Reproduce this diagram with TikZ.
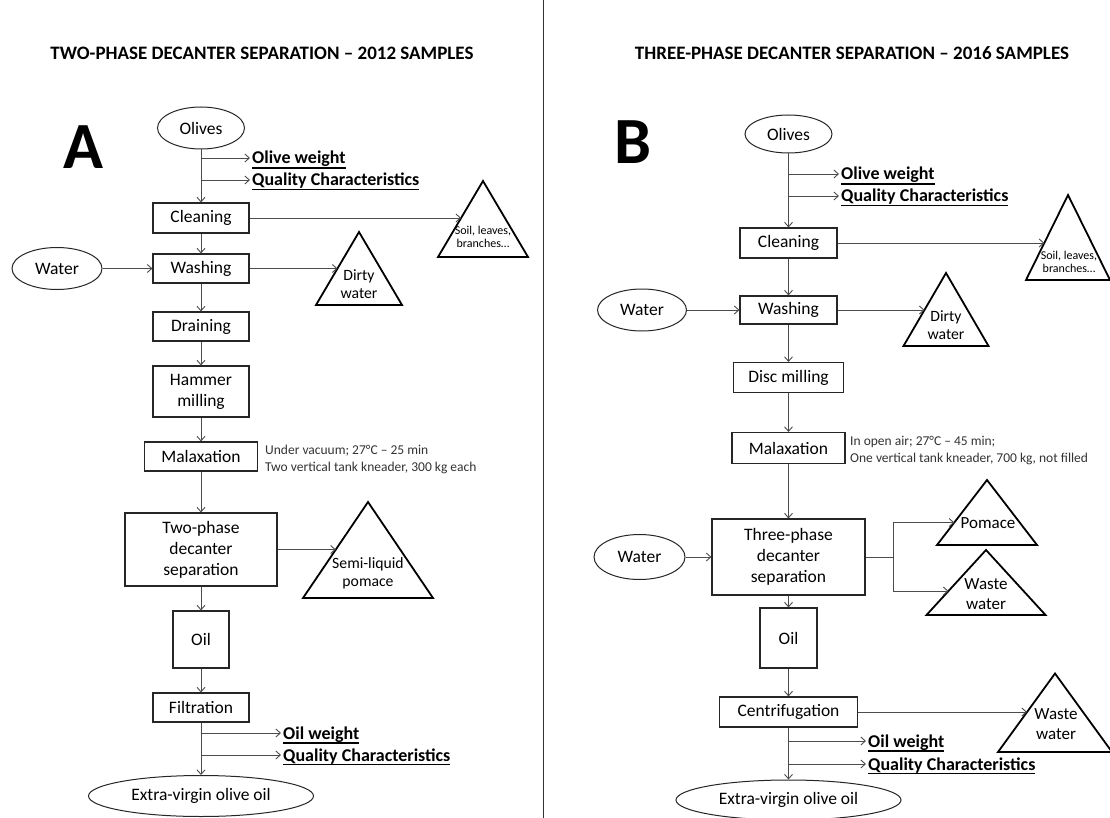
\documentclass[tikz,border=0pt]{standalone}
\usepackage{fontspec}
\setmainfont{Carlito}
\usetikzlibrary{shapes.geometric,arrows.meta}
\newcommand\fmain{\fontsize{17.5}{21}\selectfont}
\newcommand\ftri{\fontsize{15.7}{18.5}\selectfont}
\newcommand\ftrib{\fontsize{17}{20}\selectfont}
\newcommand\fsmall{\fontsize{12}{13.5}\selectfont}
\newcommand\fnote{\fontsize{13.5}{17}\selectfont}
\newcommand\ftitle{\fontsize{19}{23}\selectfont\bfseries}
\newcommand\fbig{\fontsize{66}{70}\selectfont\bfseries}
\newcommand\fmeas{\fontsize{18}{21}\selectfont\bfseries}
\newcommand\ulb[1]{\setbox0=\hbox{#1}\rlap{\rule[-\dimexpr\dp0+1.6pt\relax]{\wd0}{1.3pt}}\box0}
\tikzset{
  flow/.style={draw=black!70, line width=0.9pt, -{Straight Barb[length=4.5pt,width=8pt,line width=0.9pt]}},
  plain/.style={draw=black!70, line width=0.9pt},
  box/.style={draw=black!85, line width=1.1pt, inner sep=0pt, align=center, font=\fmain},
  oval/.style={ellipse, draw=black!85, line width=1pt, inner sep=0pt, font=\fmain},
  wh/.style 2 args={minimum width=#1pt, minimum height=#2pt},
  tri/.style={draw=black, line width=1.8pt, line join=miter},
  tritext/.style={inner sep=0pt, align=center, font=\ftri},
  meas/.style={inner sep=0pt, font=\fmeas, anchor=base west},
  note/.style={inner sep=0pt, font=\fnote, align=left, anchor=west, text=black!80},
  ttl/.style={inner sep=0pt, font=\ftitle},
  big/.style={inner sep=0pt, font=\fbig},
}
\begin{document}
\begin{tikzpicture}[x=1pt,y=-1pt]
\fill[white] (0,0) rectangle (1110,818);
\useasboundingbox (0,0) rectangle (1110,818);
\draw[line width=1pt, black!80] (543,0) -- (543,818);

% ---------------- Panel A ----------------
\node[ttl] (tA) at (262,53) {TWO-PHASE DECANTER SEPARATION – 2012 SAMPLES};
\node[big] (letA) at (83,147) {A};
\node[oval, wh={87}{42}] (olA) at (201,128) {Olives};
\coordinate (owA0) at (201,158);
\coordinate (qcA0) at (201,180);
\node[meas] (owA) at (252,164) {\ulb{Olive weight}};
\node[meas] (qcA) at (252,186) {\ulb{Quality Characteristics}};
\node[box, wh={96}{30}] (clA) at (201,218) {Cleaning};
\node[oval, wh={90}{42}] (waA) at (57,268.5) {Water};
\node[box, wh={96}{29}] (wsA) at (201,268.5) {Washing};
\node[box, wh={96}{29}] (drA) at (201,326.5) {Draining};
\node[box, wh={96}{51}] (hmA) at (201,391.5) {Hammer\\milling};
\node[box, wh={113}{29}] (mxA) at (201,456.5) {Malaxation};
\node[note] (ntA) at (265,459.5) {Under vacuum; 27°C – 25 min\\Two vertical tank kneader, 300 kg each};
\node[box, wh={152}{73}] (dcA) at (201,549.5) {Two-phase\\decanter\\separation};
\node[box, wh={56}{57}] (oiA) at (201,639.5) {Oil};
\node[box, wh={96}{29}] (fiA) at (201,707.5) {Filtration};
\coordinate (owA2) at (201,733);
\coordinate (qcA2) at (201,755);
\node[meas] (oaA) at (283,739) {\ulb{Oil weight}};
\node[meas] (qaA) at (283,761) {\ulb{Quality Characteristics}};
\node[oval, wh={225}{41}] (evA) at (201,796) {Extra-virgin olive oil};

\draw[tri] (438,257) -- (483,181) -- (528,257) -- cycle;
\node[tritext, font=\fsmall] (soA) at (483,237) {Soil, leaves,\\branches…};
\coordinate (soAL) at (461.1,218);
\draw[tri] (316,305) -- (359,232) -- (402,305) -- cycle;
\node[tritext] (diA) at (359,284) {Dirty\\water};
\coordinate (diAL) at (337.5,268.5);
\draw[tri] (303,598) -- (368,502) -- (433,598) -- cycle;
\node[tritext] (seA) at (368,573.5) {Semi-liquid\\pomace};
\coordinate (seAL) at (335.8,549.5);

\draw[flow] (olA) -- (clA);
\draw[flow, shorten >=2pt] (owA0) -- (owA0 -| owA.west);
\draw[flow, shorten >=2pt] (qcA0) -- (qcA0 -| qcA.west);
\draw[flow] (clA.east) -- (soAL);
\draw[flow] (clA) -- (wsA);
\draw[flow] (waA) -- (wsA);
\draw[flow] (wsA.east) -- (diAL);
\draw[flow] (wsA) -- (drA);
\draw[flow] (drA) -- (hmA);
\draw[flow] (hmA) -- (mxA);
\draw[flow] (mxA) -- (dcA);
\draw[flow] (dcA.east) -- (seAL);
\draw[flow] (dcA) -- (oiA);
\draw[flow] (oiA) -- (fiA);
\draw[flow] (fiA) -- (evA);
\draw[flow, shorten >=2pt] (owA2) -- (owA2 -| oaA.west);
\draw[flow, shorten >=2pt] (qcA2) -- (qcA2 -| qaA.west);

% ---------------- Panel B ----------------
\node[ttl] (tB) at (852,53) {THREE-PHASE DECANTER SEPARATION – 2016 SAMPLES};
\node[big] (letB) at (633,142) {B};
\node[oval, wh={87}{38}] (olB) at (788.5,134) {Olives};
\coordinate (owB0) at (788.5,174);
\coordinate (qcB0) at (788.5,196);
\node[meas] (owB) at (841,180) {\ulb{Olive weight}};
\node[meas] (qcB) at (841,202) {\ulb{Quality Characteristics}};
\node[box, wh={97}{30}] (clB) at (788.5,243) {Cleaning};
\node[oval, wh={89}{42}] (waB) at (642,310) {Water};
\node[box, wh={97}{28}] (wsB) at (788.5,310) {Washing};
\node[box, wh={110}{30}] (dmB) at (788.5,377.5) {Disc milling};
\node[box, wh={113}{31}] (mxB) at (788.5,448) {Malaxation};
\node[note] (ntB) at (850,450.5) {In open air; 27°C – 45 min;\\One vertical tank kneader, 700 kg, not filled};
\node[box, wh={153}{76}] (dcB) at (788.5,557) {Three-phase\\decanter\\separation};
\node[oval, wh={91}{45}] (wbB) at (639.5,557) {Water};
\node[box, wh={57}{60}] (oiB) at (788.5,638) {Oil};
\node[box, wh={138}{30}] (ceB) at (788.5,712) {Centrifugation};
\coordinate (owB2) at (788.5,741);
\coordinate (qcB2) at (788.5,764);
\node[meas] (oaB) at (868,747) {\ulb{Oil weight}};
\node[meas] (qaB) at (868,770) {\ulb{Quality Characteristics}};
\node[oval, wh={225}{40}] (evB) at (788.5,800) {Extra-virgin olive oil};

\draw[tri] (1026,280) -- (1068,195) -- (1110,280) -- cycle;
\node[tritext, font=\fsmall] (soB) at (1069,262) {Soil, leaves,\\branches…};
\coordinate (soBL) at (1044.3,243);
\draw[tri] (903.5,346) -- (946,273) -- (988.5,346) -- cycle;
\node[tritext] (diB) at (946,325) {Dirty\\water};
\coordinate (diBL) at (924.5,310);
\draw[tri] (937,545) -- (987,480) -- (1037,545) -- cycle;
\node[tritext, font=\ftrib] (poB) at (988,523) {Pomace};
\coordinate (poBL) at (954.3,522.5);
\draw[tri] (926.5,615) -- (986,550) -- (1045.5,615) -- cycle;
\node[tritext, font=\ftrib] (w1B) at (986,594.5) {Waste\\water};
\coordinate (w1BL) at (948.5,591);
\draw[tri] (998,752) -- (1055,673.5) -- (1112,752) -- cycle;
\node[tritext, font=\ftrib] (w2B) at (1056,724.5) {Waste\\water};
\coordinate (w2BL) at (1027,712);
\coordinate (jB) at (893,557);

\draw[flow] (olB) -- (clB);
\draw[flow, shorten >=2pt] (owB0) -- (owB0 -| owB.west);
\draw[flow, shorten >=2pt] (qcB0) -- (qcB0 -| qcB.west);
\draw[flow] (clB.east) -- (soBL);
\draw[flow] (clB) -- (wsB);
\draw[flow] (waB) -- (wsB);
\draw[flow] (wsB.east) -- (diBL);
\draw[flow] (wsB) -- (dmB);
\draw[flow] (dmB) -- (mxB);
\draw[flow] (mxB) -- (dcB);
\draw[flow] (wbB) -- (dcB);
\draw[plain] (dcB.east) -- (jB);
\draw[flow] (jB) |- (poBL);
\draw[flow] (jB) |- (w1BL);
\draw[flow] (dcB) -- (oiB);
\draw[flow] (oiB) -- (ceB);
\draw[flow] (ceB.east) -- (w2BL);
\draw[flow] (ceB) -- (evB);
\draw[flow, shorten >=2pt] (owB2) -- (owB2 -| oaB.west);
\draw[flow, shorten >=2pt] (qcB2) -- (qcB2 -| qaB.west);
\end{tikzpicture}
\end{document}
